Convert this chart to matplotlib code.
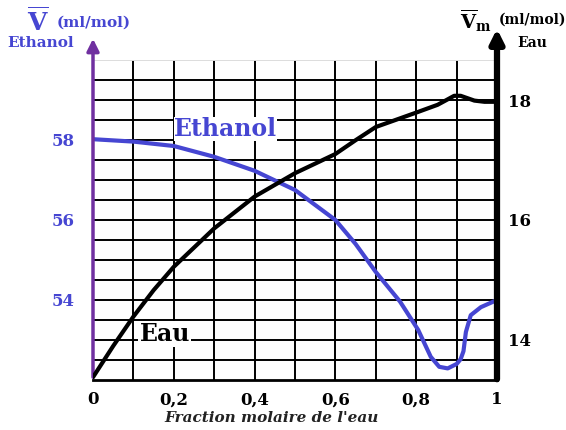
import matplotlib
matplotlib.use('Agg')
import matplotlib.pyplot as plt

plt.rcParams['font.family'] = 'DejaVu Serif'
plt.rcParams['mathtext.fontset'] = 'custom'
plt.rcParams['mathtext.rm'] = 'DejaVu Serif:bold'
plt.rcParams['mathtext.bf'] = 'DejaVu Serif:bold'

# Ethanol partial molar volume (left axis, ml/mol)
x_eth = [0.0, 0.1, 0.2, 0.3, 0.4, 0.5, 0.6, 0.65, 0.7, 0.76, 0.805, 0.836, 0.857, 0.878, 0.9, 0.91,
         0.917, 0.923, 0.935, 0.96, 1.0]
v_eth = [58.02, 57.96, 57.85, 57.58, 57.23, 56.75, 56.0, 55.4, 54.7, 53.96, 53.25, 52.58, 52.33, 52.29, 52.4, 52.52,
         52.72, 53.2, 53.62, 53.82, 54.0]

# Water partial molar volume (right axis, ml/mol)
x_eau = [0.0, 0.05, 0.1, 0.15, 0.2, 0.3, 0.4, 0.5, 0.6, 0.65, 0.7, 0.8, 0.853, 0.875, 0.894, 0.91, 0.944, 0.969, 1.0]
v_eau = [13.38, 13.9, 14.39, 14.83, 15.22, 15.86, 16.39, 16.78, 17.1, 17.33, 17.55, 17.79, 17.92, 18.0, 18.07, 18.07,
         17.99, 17.97, 17.97]

xticks = [0, 0.2, 0.4, 0.6, 0.8, 1]
xtick_labels = ['0', '0,2', '0,4', '0,6', '0,8', '1']
left_ticks = [54, 56, 58]
right_ticks = [14, 16, 18]

blue = '#4646d2'
purple = '#7030a0'

fig = plt.figure(figsize=(5.66, 4.30), dpi=100)
ax = fig.add_axes([93/566, 50/430, 404/566, 320/430])
ax.set_xlim(0, 1)
ax.set_ylim(52, 60)

# grid
for gx in [i/10 for i in range(1, 10)]:
    ax.axvline(gx, color='black', lw=1.4, zorder=1)
for gy in [52.5 + 0.5*i for i in range(15)]:
    ax.axhline(gy, color='black', lw=1.4, zorder=1)
ax.axhline(60, color='#dddddd', lw=1.4, zorder=1)

ax2 = ax.twinx()
ax2.set_ylim(13 + 1/3, 18 + 2/3)

ax.plot(x_eth, v_eth, color=blue, lw=3.0, zorder=3, solid_capstyle='round', solid_joinstyle='round')
ax2.plot(x_eau, v_eau, color='black', lw=3.0, zorder=3, solid_capstyle='round', solid_joinstyle='round')

for a in (ax, ax2):
    for s in a.spines.values():
        s.set_visible(False)
    a.tick_params(length=0)

ax.spines['bottom'].set_visible(True)
ax.spines['bottom'].set_linewidth(2)

ax.set_xticks(xticks)
ax.set_xticklabels(xtick_labels, fontsize=12, fontweight='bold')
ax.tick_params(axis='x', pad=8)
ax.set_yticks(left_ticks)
ax.set_yticklabels([str(t) for t in left_ticks], fontsize=12, fontweight='bold', color=blue)
ax.tick_params(axis='y', pad=13)
ax2.set_yticks(right_ticks)
ax2.set_yticklabels([str(t) for t in right_ticks], fontsize=12, fontweight='bold')
ax2.tick_params(axis='y', pad=8)

# axis arrows
ax.annotate('', xy=(0, 60.6), xytext=(0, 52), xycoords='data',
            arrowprops=dict(arrowstyle='-|>', color=purple, lw=2.5, mutation_scale=18),
            annotation_clip=False, zorder=5)
ax.annotate('', xy=(1, 60.85), xytext=(1, 51.95), xycoords='data',
            arrowprops=dict(arrowstyle='-|>', color='black', lw=4.5, mutation_scale=20),
            annotation_clip=False, zorder=5)

# curve labels
ax.text(0.2, 58.28, 'Ethanol', color=blue, fontsize=17, fontweight='bold',
        ha='left', va='center', zorder=4,
        bbox=dict(facecolor='white', edgecolor='none', pad=0))
ax.text(0.115, 53.15, 'Eau', color='black', fontsize=17, fontweight='bold',
        ha='left', va='center', zorder=4,
        bbox=dict(facecolor='white', edgecolor='none', pad=1))

# axis titles
fig.text(27/566, 1 - 21/430, r'$\overline{\mathrm{V}}$', color=blue, fontsize=18, va='center')
fig.text(57/566, 1 - 23/430, '(ml/mol)', color=blue, fontsize=11, fontweight='bold', va='center')
fig.text(7/566, 1 - 43/430, 'Ethanol', color=blue, fontsize=11, fontweight='bold', va='center')
fig.text(460/566, 1 - 21/430, r'$\overline{\mathrm{V}}_{\mathrm{m}}$', color='black', fontsize=14, va='center')
fig.text(499/566, 1 - 20/430, '(ml/mol)', color='black', fontsize=10, fontweight='bold', va='center')
fig.text(517/566, 1 - 43/430, 'Eau', color='black', fontsize=10, fontweight='bold', va='center')

fig.text(272/566, 1 - 418/430, "Fraction molaire de l'eau", fontsize=11,
         fontweight='bold', style='italic', ha='center', va='center', color='#222222')

plt.savefig('out.png', dpi=100)
